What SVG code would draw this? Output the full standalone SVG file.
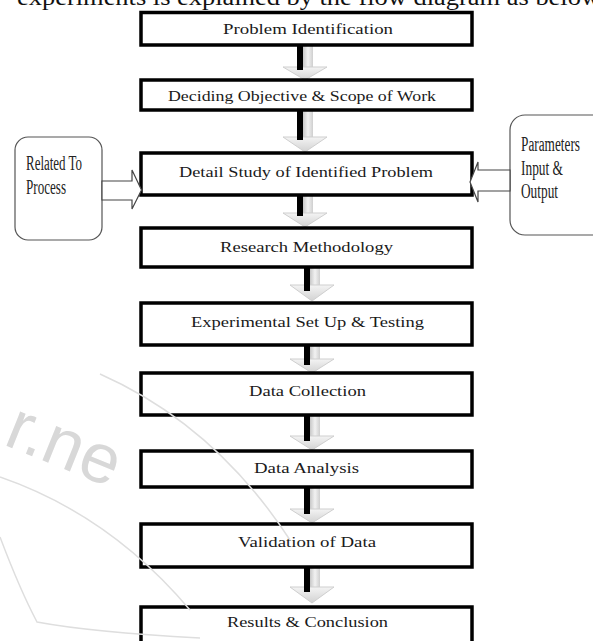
<svg xmlns="http://www.w3.org/2000/svg" width="593" height="641" viewBox="0 0 593 641">
<style>
  .box{fill:#fff;stroke:#000;stroke-width:3.5}
  .side{fill:#fff;stroke:#555;stroke-width:1.2}
  .lbl{font-family:"Liberation Serif","Times New Roman",serif;font-size:15.5px;fill:#1a1a1a}
  .slbl{font-family:"Liberation Serif","Times New Roman",serif;font-size:20px;fill:#222}
  .hollow{fill:#fff;stroke:#444;stroke-width:1.2}
  .shaft{fill:url(#sg)}
  .bar{fill:#000}
  .head{fill:url(#hg);stroke:#cfcfcf;stroke-width:1}
  .wm{fill:none;stroke:#dedede;stroke-width:1.5}
  .wmt{font-family:"Liberation Sans",Arial,sans-serif;font-size:70px;fill:#d8d8d8}
  .top{font-family:"Liberation Serif","Times New Roman",serif;font-size:24px;fill:#111}
</style>
<defs>
  <linearGradient id="sg" x1="0" y1="0" x2="1" y2="0">
    <stop offset="0" stop-color="#c8c8c8"/>
    <stop offset="0.5" stop-color="#f2f2f2"/>
    <stop offset="1" stop-color="#cfcfcf"/>
  </linearGradient>
  <linearGradient id="hg" x1="0" y1="0" x2="0" y2="1">
    <stop offset="0" stop-color="#f4f4f4"/>
    <stop offset="1" stop-color="#d2d2d2"/>
  </linearGradient>
</defs>
<rect width="593" height="641" fill="#fff"/>
<text class="top" x="17" y="4.5" textLength="583" lengthAdjust="spacingAndGlyphs">experiments is explained by the flow diagram as below</text>

<g id="watermark">
  <text class="wmt" x="2" y="444" transform="rotate(22 2 444)">r.ne</text>
</g>

<g id="connectors">
  <!-- 1 -> 2 -->
  <rect class="shaft" x="303" y="45" width="10" height="23"/>
  <polygon class="head" points="283,67 327,67 305,80"/>
  <rect class="bar" x="297" y="45" width="6" height="25"/>
  <!-- 2 -> 3 -->
  <rect class="shaft" x="303" y="110" width="10" height="28"/>
  <polygon class="head" points="283,137 327,137 305,152"/>
  <rect class="bar" x="297" y="110" width="6" height="30"/>
  <!-- 3 -> 4 -->
  <rect class="shaft" x="303" y="195" width="10" height="19"/>
  <polygon class="head" points="283,213 327,213 305,227"/>
  <rect class="bar" x="297" y="195" width="6" height="21"/>
  <!-- 4 -> 5 -->
  <rect class="shaft" x="310" y="267" width="10" height="19"/>
  <polygon class="head" points="290,285 334,285 312,301"/>
  <rect class="bar" x="304" y="267" width="6" height="24"/>
  <!-- 5 -> 6 -->
  <rect class="shaft" x="310" y="345" width="10" height="15"/>
  <polygon class="head" points="290,359 334,359 312,373"/>
  <rect class="bar" x="304" y="345" width="6" height="20"/>
  <!-- 6 -> 7 -->
  <rect class="shaft" x="310" y="415" width="10" height="22"/>
  <polygon class="head" points="290,436 334,436 312,450"/>
  <rect class="bar" x="304" y="415" width="6" height="26"/>
  <!-- 7 -> 8 -->
  <rect class="shaft" x="310" y="487" width="10" height="23"/>
  <polygon class="head" points="290,509 334,509 312,523"/>
  <rect class="bar" x="304" y="487" width="6" height="27"/>
  <!-- 8 -> 9 -->
  <rect class="shaft" x="310" y="567" width="10" height="21"/>
  <polygon class="head" points="290,587 334,587 312,603"/>
  <rect class="bar" x="304" y="567" width="6" height="25"/>
</g>

<g id="n1"><rect class="box" x="141" y="12.5" width="331" height="32.5"/>
  <text class="lbl" x="223" y="34" textLength="170" lengthAdjust="spacingAndGlyphs">Problem Identification</text></g>
<g id="n2"><rect class="box" x="141" y="80" width="331" height="30"/>
  <text class="lbl" x="168" y="101" textLength="268" lengthAdjust="spacingAndGlyphs">Deciding Objective &amp; Scope of Work</text></g>
<g id="n3"><rect class="box" x="141" y="153" width="331" height="42"/>
  <text class="lbl" x="179" y="177" textLength="254" lengthAdjust="spacingAndGlyphs">Detail Study of Identified Problem</text></g>
<g id="n4"><rect class="box" x="141" y="228" width="331" height="39"/>
  <text class="lbl" x="220" y="252" textLength="173" lengthAdjust="spacingAndGlyphs">Research Methodology</text></g>
<g id="n5"><rect class="box" x="141" y="303" width="331" height="42"/>
  <text class="lbl" x="191" y="327" textLength="233" lengthAdjust="spacingAndGlyphs">Experimental Set Up &amp; Testing</text></g>
<g id="n6"><rect class="box" x="141" y="373" width="331" height="42"/>
  <text class="lbl" x="249" y="396" textLength="117" lengthAdjust="spacingAndGlyphs">Data Collection</text></g>
<g id="n7"><rect class="box" x="141" y="451" width="331" height="36"/>
  <text class="lbl" x="254" y="473" textLength="105" lengthAdjust="spacingAndGlyphs">Data Analysis</text></g>
<g id="n8"><rect class="box" x="141" y="524" width="331" height="43"/>
  <text class="lbl" x="238" y="547" textLength="138" lengthAdjust="spacingAndGlyphs">Validation of Data</text></g>
<g id="n9"><rect class="box" x="141" y="607" width="331" height="60"/>
  <text class="lbl" x="227" y="627" textLength="161" lengthAdjust="spacingAndGlyphs">Results &amp; Conclusion</text></g>

<g id="left-node"><rect class="side" x="15" y="137" width="87" height="103" rx="13"/>
  <text class="slbl" x="26" y="170" textLength="56" lengthAdjust="spacingAndGlyphs">Related To</text>
  <text class="slbl" x="26" y="194" textLength="40" lengthAdjust="spacingAndGlyphs">Process</text></g>
<g id="right-node"><rect class="side" x="510" y="115" width="110" height="120" rx="15"/>
  <text class="slbl" x="521" y="151" textLength="59" lengthAdjust="spacingAndGlyphs">Parameters</text>
  <text class="slbl" x="521" y="175" textLength="42" lengthAdjust="spacingAndGlyphs">Input &amp;</text>
  <text class="slbl" x="521" y="198" textLength="37" lengthAdjust="spacingAndGlyphs">Output</text></g>

<g id="side-connectors">
  <polygon class="hollow" points="102,181 132,181 132,170 141.5,190 132,209 132,200 102,200"/>
  <polygon class="hollow" points="510,170 478,170 478,162 470,182 478,202 478,191 510,191"/>
</g>

<g id="watermark-lines">
  <path class="wm" d="M100,374 Q215,425 290,540"/>
  <path class="wm" d="M0,477 Q110,515 190,610"/>
  <path class="wm" d="M0,537 Q20,590 37,622 Q90,632 200,638"/>
</g>
</svg>
